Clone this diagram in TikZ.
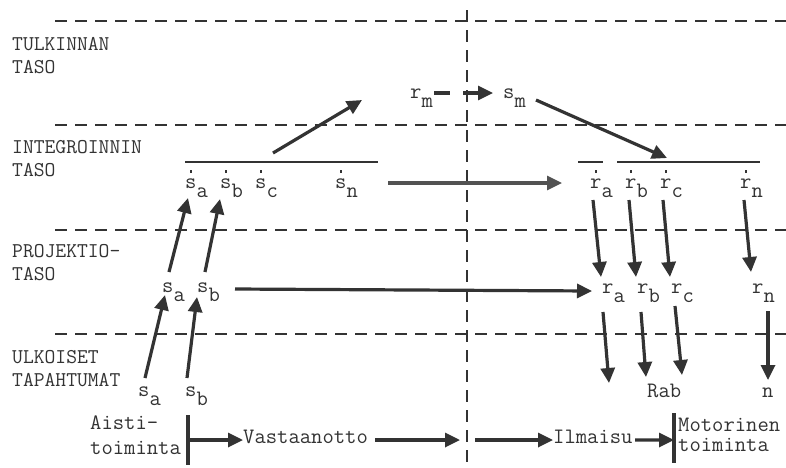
\documentclass[tikz,border=0pt]{standalone}
\usepackage{fontspec}
\usetikzlibrary{arrows.meta,calc}
\newcommand\dotover[1]{\rlap{\makebox[0.525em]{\raisebox{0.68em}{\rule{2.6pt}{2.6pt}}}}#1}
\newcommand\sbx[1]{\raisebox{-0.45em}{#1}}
\definecolor{ink}{HTML}{333333}
\tikzset{
  lbl/.style={inner sep=0pt, anchor=base west, text=ink, font=\ttfamily\fontsize{22}{24}\selectfont},
  side/.style={inner sep=0pt, anchor=north west, align=left, text=ink, font=\ttfamily\fontsize{21}{23}\selectfont},
  arr/.style={draw=ink, line width=3.2pt, -{Triangle[length=15pt,width=14pt]}},
  grid/.style={draw=ink, line width=1.8pt, dash pattern=on 12pt off 8pt},
  bar/.style={draw=ink, line width=3.2pt},
  level/.style={draw=ink, line width=2.8pt}
}
\begin{document}
\begin{tikzpicture}[x=1pt,y=-1pt]
\useasboundingbox (0,0) rectangle (786,467);
% grid
\draw[grid] (55,21) -- (786,21);
\draw[grid] (55,125) -- (786,125);
\draw[grid] (55,230) -- (786,230);
\draw[grid] (55,334) -- (786,334);
\draw[grid] (467,10) -- (467,467);
% side labels
\node[side] (lt) at (12,37) {TULKINNAN\\TASO};
\node[side] (li) at (12,140) {INTEGROINNIN\\TASO};
\node[side] (lp) at (12,244) {PROJEKTIO-\\TASO};
\node[side] (lu) at (12,350) {ULKOISET\\TAPAHTUMAT};
% integration level
\draw[level] (185,162) -- (378,162);
\draw[level] (578,162) -- (603,162);
\draw[level] (617,162) -- (760,162);
\node[lbl] (isa) at (185,188) {\dotover{s}\sbx{a}};
\node[lbl] (isb) at (220,188) {\dotover{s}\sbx{b}};
\node[lbl] (isc) at (255,188) {\dotover{s}\sbx{c}};
\node[lbl] (isn) at (335,188) {\dotover{s}\sbx{n}};
\node[lbl] (ira) at (590,188) {\dotover{r}\sbx{a}};
\node[lbl] (irb) at (625,188) {\dotover{r}\sbx{b}};
\node[lbl] (irc) at (660,188) {\dotover{r}\sbx{c}};
\node[lbl] (irn) at (740,188) {\dotover{r}\sbx{n}};
% interpretation level
\node[lbl] (rm) at (410,98) {r\sbx{m}};
\node[lbl] (sm) at (503,98) {s\sbx{m}};
% projection level
\node[lbl] (psa) at (162,292) {s\sbx{a}};
\node[lbl] (psb) at (197,292) {s\sbx{b}};
\node[lbl] (pra) at (602,293) {r\sbx{a}};
\node[lbl] (prb) at (637,293) {r\sbx{b}};
\node[lbl] (prc) at (671,293) {r\sbx{c}};
\node[lbl] (prn) at (752,293) {r\sbx{n}};
% external
\node[lbl] (esa) at (138,396) {s\sbx{a}};
\node[lbl] (esb) at (185,396) {s\sbx{b}};
\node[lbl] (rab) at (647,397) {Rab};
\node[lbl] (nn) at (762,397) {n};
% bottom row
\node[side, font=\ttfamily\fontsize{22}{25}\selectfont] (ais) at (90,416) {Aisti-\\toiminta};
\node[lbl] (vas) at (243,443) {Vastaanotto};
\node[lbl] (ilm) at (553,443) {Ilmaisu};
\node[side, font=\ttfamily\fontsize{22}{20}\selectfont] (mot) at (678,418) {Motorinen\\toiminta};
\coordinate (b1t) at (188,415); \coordinate (b1b) at (188,465);
\coordinate (b2t) at (674,413); \coordinate (b2b) at (674,463);
\draw[bar] (b1t) -- (b1b);
\draw[bar] (b2t) -- (b2b);
% arrows
\draw[arr] ($(isc.base west)+(18,-35)$) -- ($(rm.base west)+(-48,2)$);
\draw[arr, dash pattern=on 16pt off 13pt] ($(rm.base west)+(24,-5)$) -- ($(sm.base west)+(-10,-5)$);
\draw[arr] ($(sm.base west)+(33,2)$) -- ($(irc.base west)+(7,-30)$);
\draw[arr, draw=ink!85] ($(isn.base west)+(53,-5)$) -- ($(ira.base west)+(-28,-5)$);
\draw[arr] ($(psa.base west)+(7,-20)$) -- ($(isa.base west)+(3,10)$);
\draw[arr] ($(psb.base west)+(8,-20)$) -- ($(isb.base west)+(0,11)$);
\draw[arr] ($(esa.base west)+(7,-18)$) -- ($(psa.base west)+(3,3)$);
\draw[arr] ($(esb.base west)+(2,-18)$) -- ($(psb.base west)+(0,5)$);
\draw[arr] ($(psb.base west)+(38,-3)$) -- ($(pra.base west)+(-10,-2)$);
\draw[arr] ($(ira.base west)+(3,12)$) -- ($(pra.base west)+(-1,-16)$);
\draw[arr] ($(irb.base west)+(4,12)$) -- ($(prb.base west)+(-1,-16)$);
\draw[arr] ($(irc.base west)+(3,12)$) -- ($(prc.base west)+(-1,-16)$);
\draw[arr] ($(irn.base west)+(4,12)$) -- ($(prn.base west)+(-1,-21)$);
\draw[arr] ($(pra.base west)+(1,19)$) -- ($(rab.base west)+(-38,-14)$);
\draw[arr] ($(prb.base west)+(4,19)$) -- ($(rab.base west)+(-1,-20)$);
\draw[arr] ($(prc.base west)+(4,13)$) -- ($(rab.base west)+(35,-22)$);
\draw[arr] ($(prn.base west)+(16,18)$) -- ($(nn.base west)+(6,-17)$);
\draw[arr] ($(b1t)!0.5!(b1b)$) -- ($(vas.base west)+(0,-3)$);
\draw[arr] ($(vas.base west)+(132,-3)$) -- ($(vas.base west)+(217,-3)$);
\draw[arr] ($(ilm.base west)+(-78,-3)$) -- ($(ilm.base west)+(0,-3)$);
\draw[arr] ($(ilm.base west)+(82,-3)$) -- ($(b2t)!0.54!(b2b)$);
\end{tikzpicture}
\end{document}
